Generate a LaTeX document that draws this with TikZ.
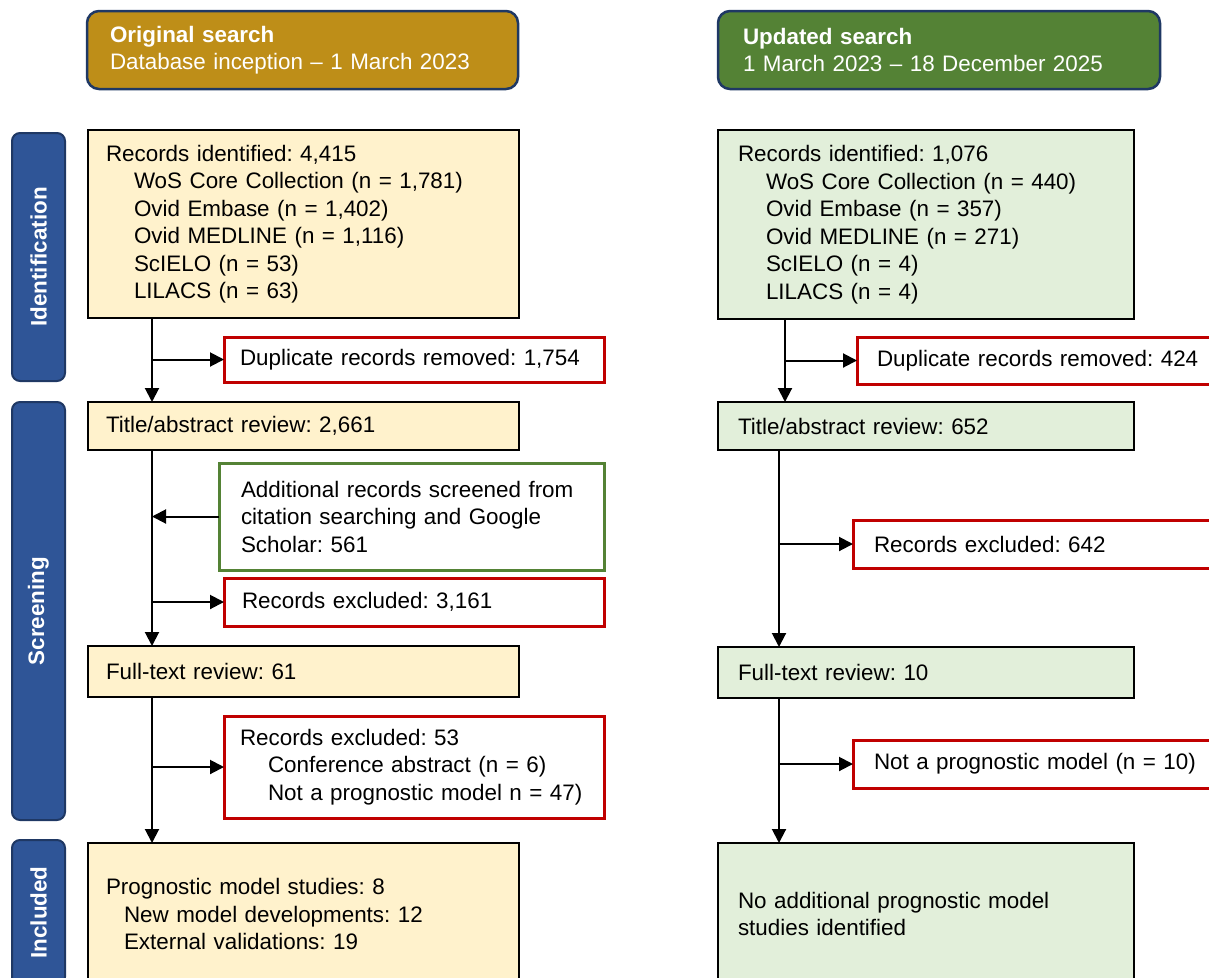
\documentclass[tikz,border=0pt]{standalone}
\usepackage{fontspec}
\setmainfont{Liberation Sans}
\usetikzlibrary{arrows.meta}
\frenchspacing
\definecolor{hdgold}{RGB}{190,142,24}
\definecolor{hdgreen}{RGB}{84,130,53}
\definecolor{navy}{RGB}{31,56,100}
\definecolor{lblblue}{RGB}{47,85,151}
\definecolor{lightyel}{RGB}{255,242,204}
\definecolor{lightgrn}{RGB}{226,239,218}
\definecolor{exred}{RGB}{192,0,0}
\definecolor{addgrn}{RGB}{84,130,53}
\newcommand\flowbox[8]{%
  \pgfmathsetmacro\fbw{#6-#4}%
  \pgfmathsetmacro\fbh{#7-#5}%
  \pgfmathsetmacro\fbt{#6-#4-2*#3}%
  \node[#1, anchor=north west, inner xsep=#3pt, inner ysep=0pt,
        minimum width=\fbw pt, minimum height=\fbh pt, text width=\fbt pt] (#2) at (#4,#5) {#8};}
\newcommand\ind{\hspace*{28pt}}
\tikzset{
  txt/.style={font=\fontsize{22.4pt}{27.5pt}\selectfont\frenchspacing, align=left, outer sep=0pt},
  header/.style={txt, draw=navy, line width=2.5pt, rounded corners=12pt, text=white},
  yelbox/.style={txt, draw=black, line width=2.4pt, fill=lightyel},
  grnbox/.style={txt, draw=black, line width=2.4pt, fill=lightgrn},
  redbox/.style={txt, draw=exred, line width=3pt, fill=white},
  addbox/.style={txt, draw=addgrn, line width=3pt, fill=white},
  stage/.style={draw=navy, line width=2pt, fill=lblblue, rounded corners=8pt, rotate=90,
    text=white, font=\fontsize{22.4pt}{27pt}\selectfont\bfseries, inner sep=0pt, minimum height=53pt},
  arr/.style={line width=2pt, -{Triangle[length=14pt,width=14pt]}},
}
\begin{document}
\begin{tikzpicture}[x=1pt,y=-1pt]
\useasboundingbox (0,0) rectangle (1209,977);
\clip (0,0) rectangle (1209,977);

% headers
\flowbox{header, fill=hdgold}{h1}{23}{87}{11}{518}{89}{\textbf{Original search}\\Database inception – 1 March 2023}
\flowbox{header, fill=hdgreen}{h2}{25}{718}{11}{1160}{89}{\textbf{Updated search}\\1 March 2023 – 18 December 2025}

% stage labels
\node[stage, minimum width=248pt] (sid) at (38.5,257) {Identification};
\node[stage, minimum width=418pt] (ssc) at (38.5,611) {Screening};
\node[stage, minimum width=145pt] (sin) at (38.5,912.5) {Included};

% left column
\flowbox{yelbox}{rec1}{18}{88}{130}{519}{318}{Records identified: 4,415\\\ind WoS Core Collection (n = 1,781)\\\ind Ovid Embase (n = 1,402)\\\ind Ovid MEDLINE (n = 1,116)\\\ind ScIELO (n = 53)\\\ind LILACS (n = 63)}
\flowbox{redbox}{dup1}{16}{224}{337}{604}{382}{Duplicate records removed: 1,754}
\flowbox{yelbox}{title1}{18}{88}{402}{519}{450}{Title/abstract review: 2,661}
\flowbox{addbox}{add1}{22}{219}{463}{604}{570}{Additional records screened from\\citation searching and Google\\Scholar: 561}
\flowbox{redbox}{excl1}{18}{224}{578}{604}{626}{Records excluded: 3,161}
\flowbox{yelbox}{full1}{18}{88}{646}{519}{697}{Full-text review: 61}
\flowbox{redbox}{excl2}{16}{224}{716}{604}{818}{Records excluded: 53\\\ind Conference abstract (n = 6)\\\ind Not a prognostic model n = 47)}
\flowbox{yelbox}{prog1}{18}{88}{843}{519}{985}{Prognostic model studies: 8\\\hspace*{18pt}New model developments: 12\\\hspace*{18pt}External validations: 19}

% right column
\flowbox{grnbox}{rec2}{20}{718}{130}{1134}{319}{Records identified: 1,076\\\ind WoS Core Collection (n = 440)\\\ind Ovid Embase (n = 357)\\\ind Ovid MEDLINE (n = 271)\\\ind ScIELO (n = 4)\\\ind LILACS (n = 4)}
\flowbox{redbox}{dup2}{20}{857}{337}{1260}{384}{Duplicate records removed: 424}
\flowbox{grnbox}{title2}{20}{718}{402}{1134}{450}{Title/abstract review: 652}
\flowbox{redbox}{excl3}{21}{853}{520}{1260}{568}{Records excluded: 642}
\flowbox{grnbox}{full2}{20}{718}{647}{1134}{698}{Full-text review: 10}
\flowbox{redbox}{notp}{21}{853}{740}{1260}{788}{Not a prognostic model (n = 10)}
\flowbox{grnbox}{fin2}{20}{718}{843}{1134}{985}{No additional prognostic model\\studies identified}

% trunks
\coordinate (LT) at (152,0);
\coordinate (RT1) at (785,0);
\coordinate (RT2) at (779,0);

% left connectors
\draw[arr] (rec1.south -| LT) -- (title1.north -| LT);
\draw[arr] (dup1.west -| LT) -- (dup1.west);
\draw[arr] (title1.south -| LT) -- (full1.north -| LT);
\draw[arr] (add1.west) -- (add1.west -| LT);
\draw[arr] (excl1.west -| LT) -- (excl1.west);
\draw[arr] (full1.south -| LT) -- (prog1.north -| LT);
\draw[arr] (excl2.west -| LT) -- (excl2.west);

% right connectors
\draw[arr] (rec2.south -| RT1) -- (title2.north -| RT1);
\draw[arr] (dup2.west -| RT1) -- (dup2.west);
\draw[arr] (title2.south -| RT2) -- (full2.north -| RT2);
\draw[arr] (excl3.west -| RT2) -- (excl3.west);
\draw[arr] (full2.south -| RT2) -- (fin2.north -| RT2);
\draw[arr] (notp.west -| RT2) -- (notp.west);
\end{tikzpicture}
\end{document}
